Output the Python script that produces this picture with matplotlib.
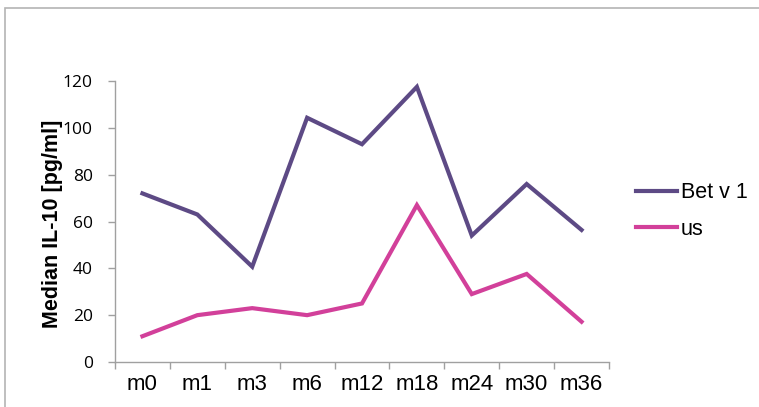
import matplotlib
matplotlib.use("Agg")
import matplotlib.pyplot as plt
from matplotlib.patches import Rectangle
from matplotlib.ticker import FixedLocator

# data
months = ['m0', 'm1', 'm3', 'm6', 'm12', 'm18', 'm24', 'm30', 'm36']
betv1 = [72, 63, 40.7, 104.3, 93, 117.5, 54, 76, 56.4]
us = [11, 20, 23, 20, 25, 67, 29, 37.6, 17.2]
y_ticks = [0, 20, 40, 60, 80, 100, 120]

W, H = 759, 407
fig = plt.figure(figsize=(W / 100, H / 100), dpi=100)

# light frame round the chart area (clipped at right/bottom like the reference)
fig.patches.append(Rectangle((5 / W, -0.1), 1.2, (H - 8) / H + 0.1,
                             transform=fig.transFigure, fill=False,
                             edgecolor='#B4B4B4', linewidth=1.2))

ax = fig.add_axes([115 / W, 45 / H, 494 / W, 281 / H])

x = list(range(len(months)))
ax.plot(x, betv1, color='#5D4A85', lw=3, label='Bet v 1', solid_joinstyle='miter')
ax.plot(x, us, color='#D2409A', lw=3, label='us', solid_joinstyle='miter')

ax.set_xlim(-0.5, len(months) - 0.5)
ax.set_ylim(0, 120)

ax.set_xticks(x)
ax.set_xticklabels(months, fontsize=16, family='Liberation Sans')
ax.xaxis.set_minor_locator(FixedLocator([i - 0.5 for i in range(len(months) + 1)]))
ax.tick_params(axis='x', which='major', length=0, pad=9)
ax.tick_params(axis='x', which='minor', length=5, width=1, color='#A0A0A0', direction='out')

ax.set_yticks(y_ticks)
ax.set_yticklabels([str(v) for v in y_ticks], fontsize=12.5, family='Open Sans')
ax.tick_params(axis='y', length=5, width=1, color='#A0A0A0', pad=11)

for s in ['top', 'right']:
    ax.spines[s].set_visible(False)
for s in ['left', 'bottom']:
    ax.spines[s].set_color('#A0A0A0')
    ax.spines[s].set_linewidth(1)

ax.set_ylabel('Median IL-10 [pg/ml]', fontsize=15.5, fontweight='bold',
              family='Liberation Sans')
ax.yaxis.set_label_coords(-0.106, 0.49)

leg = fig.legend(loc='center left', bbox_to_anchor=(617 / W, 1 - 211 / H),
                 frameon=False, prop={'family': 'Liberation Sans', 'size': 15.5},
                 handlelength=1.9, handletextpad=0.15, labelspacing=0.7)

fig.savefig('out.png', dpi=100)
